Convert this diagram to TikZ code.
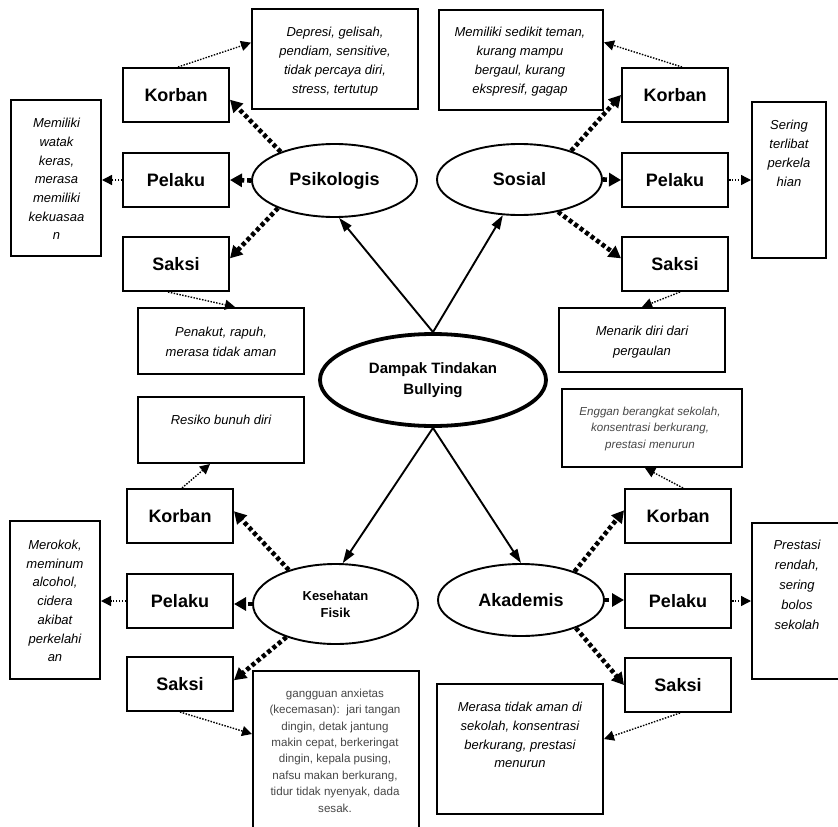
\documentclass[tikz,border=0pt]{standalone}
\usepackage{fontspec}
\setmainfont{Liberation Sans}
\usetikzlibrary{arrows.meta,shapes.geometric}
\begin{document}
\begin{tikzpicture}[x=1pt,y=-1pt,
  lab/.style={draw,line width=2pt,minimum width=106pt,minimum height=54pt,inner sep=0pt,
    font=\bfseries\fontsize{18}{20}\selectfont},
  frame/.style={draw,line width=2pt,inner sep=0pt},
  desc/.style={align=center,inner sep=0pt,font=\itshape\fontsize{13}{19}\selectfont},
  greydesc/.style={align=center,inner sep=0pt,text=black!72},
  oval/.style={draw,ellipse,line width=1.9pt,inner sep=0pt,align=center,
    font=\bfseries\fontsize{18}{20}\selectfont},
  heavy/.style={line width=4.6pt,dash pattern=on 4pt off 2.8pt,
    -{Triangle[length=12pt,width=13pt]}},
  light/.style={line width=1.4pt,dash pattern=on 1.5pt off 1.4pt,
    -{Triangle[length=10pt,width=10pt]}},
  mainarrow/.style={line width=1.9pt,-{Triangle[length=14pt,width=9pt]}}]
\useasboundingbox[fill=white] (0,0) rectangle (838,827);

% central topic
\node[oval,line width=3.8pt,minimum width=226pt,minimum height=92pt,
  font=\bfseries\fontsize{15}{21}\selectfont] (dampak) at (433,380) {Dampak Tindakan\\Bullying};

% four impact areas
\node[oval,minimum width=165pt,minimum height=73pt] (psi) at (334.5,180.5) {Psikologis};
\node[oval,minimum width=165pt,minimum height=71pt] (sos) at (519.5,179.5) {Sosial};
\node[oval,minimum width=165pt,minimum height=80pt,
  font=\bfseries\fontsize{13}{17}\selectfont] (kes) at (335.5,604) {Kesehatan\\Fisik};
\node[oval,minimum width=166pt,minimum height=72pt] (aka) at (521,600) {Akademis};

% role boxes
\node[lab] (korTL) at (176,95) {Korban};
\node[lab] (pelTL) at (176,180) {Pelaku};
\node[lab] (sakTL) at (176,264) {Saksi};
\node[lab] (korTR) at (675,95) {Korban};
\node[lab] (pelTR) at (675,180) {Pelaku};
\node[lab] (sakTR) at (675,264) {Saksi};
\node[lab] (korBL) at (180,516) {Korban};
\node[lab] (pelBL) at (180,601) {Pelaku};
\node[lab] (sakBL) at (180,684) {Saksi};
\node[lab] (korBR) at (678,516) {Korban};
\node[lab] (pelBR) at (678,601) {Pelaku};
\node[lab] (sakBR) at (678,685) {Saksi};

% description frames
\node[frame,minimum width=166pt,minimum height=100pt] (dep) at (335,59) {};
\node[frame,minimum width=90pt,minimum height=156pt] (watak) at (56,178) {};
\node[frame,minimum width=166pt,minimum height=66pt] (pen) at (221,341) {};
\node[frame,minimum width=164pt,minimum height=100pt] (sed) at (521,60) {};
\node[frame,minimum width=74pt,minimum height=156pt] (sering) at (789,180) {};
\node[frame,minimum width=166pt,minimum height=64pt] (men) at (642,340) {};
\node[frame,minimum width=166pt,minimum height=66pt] (res) at (221,430) {};
\node[frame,minimum width=90pt,minimum height=158pt] (rok) at (55,600) {};
\node[frame,minimum width=166pt,minimum height=168pt] (gang) at (336,755) {};
\node[frame,minimum width=180pt,minimum height=78pt] (eng) at (652,428) {};
\node[frame,minimum width=92pt,minimum height=156pt] (pres) at (798,601) {};
\node[frame,minimum width=166pt,minimum height=130pt] (mer) at (520,749) {};

% description texts
\node[desc] (depT) at (335,61.5) {Depresi, gelisah,\\pendiam, sensitive,\\tidak percaya diri,\\stress, tertutup};
\node[desc,font=\itshape\fontsize{13}{18.7}\selectfont] (watakT) at (56.5,179) {Memiliki\\watak\\keras,\\merasa\\memiliki\\kekuasaa\\n};
\node[desc,font=\itshape\fontsize{13}{20}\selectfont] (penT) at (221,342) {Penakut, rapuh,\\merasa tidak aman};
\node[desc] (sedT) at (520,61.5) {Memiliki sedikit teman,\\kurang mampu\\bergaul, kurang\\ekspresif, gagap};
\node[desc] (seringT) at (789,153.5) {Sering\\terlibat\\perkela\\hian};
\node[desc,font=\itshape\fontsize{13}{20}\selectfont] (menT) at (642,342) {Menarik diri dari\\pergaulan};
\node[desc] (resT) at (221,420) {Resiko bunuh diri};
\node[desc,font=\itshape\fontsize{13}{18.7}\selectfont] (rokT) at (55,601) {Merokok,\\meminum\\alcohol,\\cidera\\akibat\\perkelahi\\an};
\node[greydesc,font=\fontsize{11.6}{16.4}\selectfont] (gangT) at (335,750.5) {gangguan anxietas\\(kecemasan):\ \ jari tangan\\dingin, detak jantung\\makin cepat, berkeringat\\dingin, kepala pusing,\\nafsu makan berkurang,\\tidur tidak nyenyak, dada\\sesak.};
\node[greydesc,font=\itshape\fontsize{11.6}{16.5}\selectfont] (engT) at (650,428.5) {Enggan berangkat sekolah,\\konsentrasi berkurang,\\prestasi menurun};
\node[desc,font=\itshape\fontsize{13}{20}\selectfont] (presT) at (797,585) {Prestasi\\rendah,\\sering\\bolos\\sekolah};
\node[desc,font=\itshape\fontsize{13}{18.7}\selectfont] (merT) at (520,735) {Merasa tidak aman di\\sekolah, konsentrasi\\berkurang, prestasi\\menurun};

% main branches
\draw[mainarrow] (dampak.north) -- (psi.-83);
\draw[mainarrow] (dampak.north) -- (sos.245);
\draw[mainarrow] (dampak.south) -- (kes.80);
\draw[mainarrow] (dampak.south) -- (aka.north);

% impact area to roles
\draw[heavy] (psi.152) -- (korTL.-5);
\draw[heavy] (psi.west) -- (pelTL.east);
\draw[heavy] (psi.206) -- (sakTL.6);
\draw[heavy] (sos.29) -- (korTR.west);
\draw[heavy] (sos.east) -- (pelTR.west);
\draw[heavy] (sos.-40) -- (sakTR.174);
\draw[heavy] (kes.144) -- (korBL.5);
\draw[heavy] (kes.west) -- (kes.west -| pelBL.east);
\draw[heavy] (kes.214) -- (sakBL.4);
\draw[heavy] (aka.28) -- (korBR.174);
\draw[heavy] (aka.east) -- (aka.east -| pelBR.west);
\draw[heavy] (aka.-27) -- (sakBR.west);

% roles to descriptions
\draw[light] ([xshift=2pt]korTL.north) -- (dep.169);
\draw[light] (pelTL.west) -- (pelTL.west -| watak.east);
\draw[light] ([xshift=-8pt]sakTL.south) -- ([xshift=14pt]pen.north);
\draw[light] ([xshift=7pt]korTR.north) -- (sed.12);
\draw[light] (pelTR.east) -- (pelTR.east -| sering.west);
\draw[light] ([xshift=5pt]sakTR.south) -- (men.north);
\draw[light] ([xshift=2pt]korBL.north) -- ([xshift=-11pt]res.south);
\draw[light] (pelBL.west) -- (pelBL.west -| rok.east);
\draw[light] (sakBL.south) -- ([yshift=-64pt]gang.north west);
\draw[light] ([xshift=5pt]korBR.north) -- ([xshift=-7pt]eng.south);
\draw[light] (pelBR.east) -- (pelBR.east -| pres.west);
\draw[light] ([xshift=2pt]sakBR.south) -- ([yshift=-56pt]mer.north east);
\end{tikzpicture}
\end{document}
